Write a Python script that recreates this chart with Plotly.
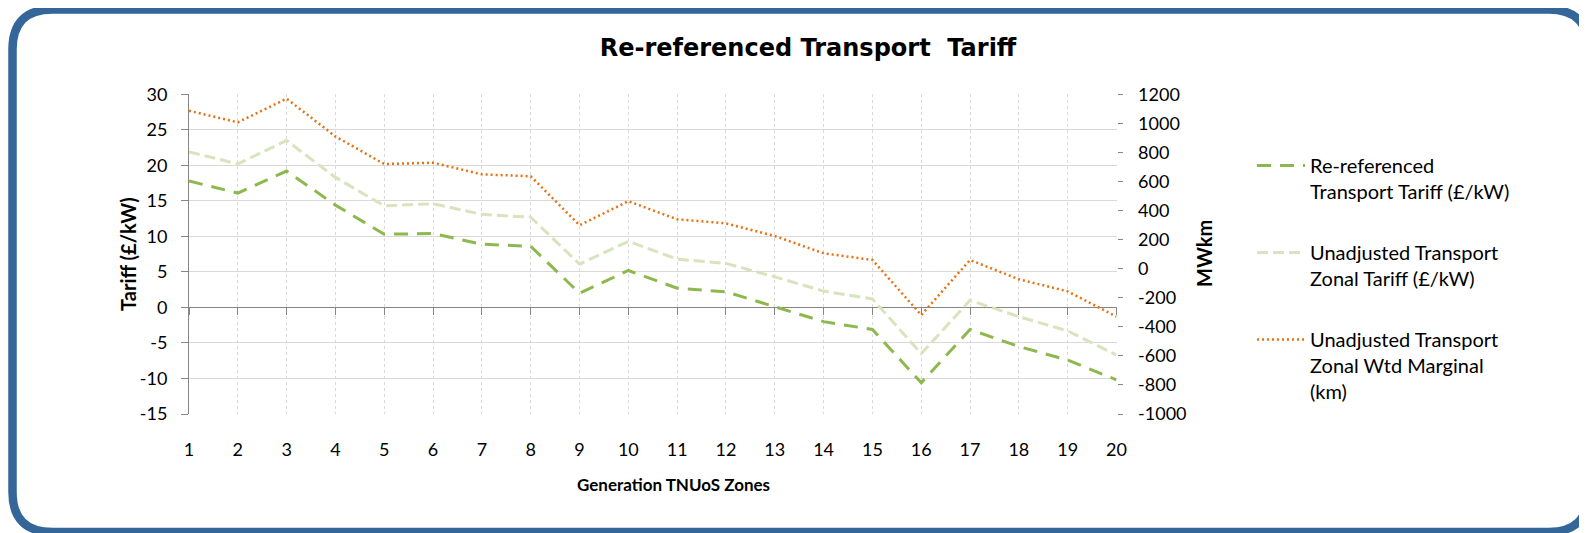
import plotly.graph_objects as go

zones = list(range(1, 21))

# left axis (£/kW)
rereferenced = [17.8, 16.1, 19.2, 14.4, 10.3, 10.4, 8.9, 8.6, 2.0, 5.2,
                2.7, 2.2, 0.1, -2.0, -3.1, -10.6, -3.1, -5.5, -7.4, -10.2]
unadjusted = [21.9, 20.2, 23.5, 18.3, 14.3, 14.6, 13.1, 12.7, 6.1, 9.3,
              6.8, 6.2, 4.3, 2.3, 1.2, -6.5, 1.0, -1.3, -3.3, -6.7]
# right axis (MWkm)
wtd_marginal = [1087, 1007, 1170, 910, 720, 729, 649, 636, 299, 464,
                340, 312, 225, 106, 60, -319, 60, -73, -156, -330]

tariff_ticks = [-15, -10, -5, 0, 5, 10, 15, 20, 25, 30]
mwkm_ticks = [-1000, -800, -600, -400, -200, 0, 200, 400, 600, 800, 1000, 1200]

names = ["Re-referenced<br>Transport Tariff (£/kW)",
         "Unadjusted Transport<br>Zonal Tariff (£/kW)",
         "Unadjusted Transport<br>Zonal Wtd Marginal<br>(km)"]

W, H = 1587, 533
FONT = "Lato"
OFF = 8  # page body margin, figure sits 8px in from the window corner


def px(x):
    return (x - OFF) / W


def py(y):
    return 1 - (y - OFF) / H


fig = go.Figure()
fig.add_trace(go.Scatter(x=zones, y=rereferenced, name=names[0], mode="lines",
                         legendgroup="a",
                         line=dict(color="#8DB84E", width=3, dash="14px,9px")))
fig.add_trace(go.Scatter(x=zones, y=unadjusted, name=names[1], mode="lines",
                         legendgroup="b",
                         line=dict(color="#D7E4BD", width=3, dash="11px,5px")))
fig.add_trace(go.Scatter(x=zones, y=wtd_marginal, name=names[2], mode="lines",
                         legendgroup="c", yaxis="y2",
                         line=dict(color="#E8700F", width=2.5, dash="2px,3px")))
# carrier for the tick marks along the zero line
fig.add_trace(go.Scatter(x=[None], y=[None], xaxis="x2", showlegend=False, hoverinfo="skip"))

xdom = [px(189), px(1116.5)]
ydom = [py(414), py(94.3)]

fig.update_layout(
    width=W, height=H,
    margin=dict(l=0, r=0, t=0, b=0, autoexpand=False),
    paper_bgcolor="white", plot_bgcolor="white",
    font=dict(family=FONT, size=18, color="black"),
    title=dict(text="<b>Re-referenced Transport  Tariff</b>", x=px(808), xanchor="center",
               y=py(48), yanchor="middle",
               font=dict(family="DejaVu Sans", size=24, color="black")),
    xaxis=dict(domain=xdom, range=[1, 20], dtick=1, showgrid=True, griddash="3px,3px",
               gridcolor="#D9D9D9", gridwidth=1, showline=False, zeroline=False,
               ticks="", ticklabelstandoff=23, automargin=False,
               tickfont=dict(size=18, color="black")),
    xaxis2=dict(domain=xdom, range=[1, 20], dtick=1, overlaying="x", anchor="free",
                position=ydom[0] + (ydom[1] - ydom[0]) / 3, showgrid=False,
                showticklabels=False, ticks="outside", ticklen=7, tickcolor="#868686",
                showline=False, zeroline=False, automargin=False),
    yaxis=dict(domain=ydom, range=[-15, 30], tickvals=tariff_ticks,
               ticktext=[str(v) for v in tariff_ticks],
               showgrid=True, gridcolor="#D9D9D9",
               showline=True, linecolor="#868686", linewidth=1, ticks="outside", ticklen=7,
               tickcolor="#868686", zeroline=True, zerolinecolor="#868686", zerolinewidth=1,
               ticklabelstandoff=10, automargin=False,
               tickfont=dict(size=18, color="black")),
    yaxis2=dict(range=[-1000, 1200], tickvals=mwkm_ticks,
                ticktext=[str(v) for v in mwkm_ticks],
                overlaying="y", side="right", showgrid=False,
                showline=False, zeroline=False, ticks="outside", ticklen=5,
                tickcolor="#868686", ticklabelstandoff=12, automargin=False,
                tickfont=dict(size=18, color="black")),
    legend=dict(x=px(1252), y=py(146), xanchor="left", yanchor="top", valign="top",
                tracegroupgap=32, itemwidth=48, font=dict(size=20, color="black"),
                bgcolor="rgba(0,0,0,0)"),
    showlegend=True,
)

fig.add_annotation(text="<b>Tariff (£/kW)</b>", x=px(114), y=py(254), xref="paper", yref="paper",
                   textangle=-90, showarrow=False, font=dict(size=20, color="black"))
fig.add_annotation(text="<b>MWkm</b>", x=px(1218), y=py(254), xref="paper", yref="paper",
                   textangle=-90, showarrow=False, font=dict(size=20, color="black"))
fig.add_annotation(text="<b>Generation TNUoS Zones</b>", x=px(673), y=py(497), xref="paper",
                   yref="paper", showarrow=False, font=dict(size=17, color="black"))

# rounded frame
L, T, R, B, r = 12.5, 9.5, 1588.5, 532, 40
path = (f"M {px(L + r)},{py(T)} L {px(R - r)},{py(T)} Q {px(R)},{py(T)} {px(R)},{py(T + r)} "
        f"L {px(R)},{py(B - r)} Q {px(R)},{py(B)} {px(R - r)},{py(B)} "
        f"L {px(L + r)},{py(B)} Q {px(L)},{py(B)} {px(L)},{py(B - r)} "
        f"L {px(L)},{py(T + r)} Q {px(L)},{py(T)} {px(L + r)},{py(T)} Z")
fig.add_shape(type="path", path=path, xref="paper", yref="paper",
              line=dict(color="#346699", width=8.5), layer="above")

fig.write_html("out.html")
